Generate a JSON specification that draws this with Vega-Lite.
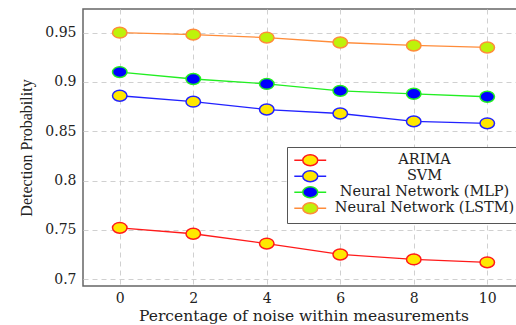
{
  "$schema": "https://vega.github.io/schema/vega-lite/v6.json",
  "autosize": "none",
  "width": 441,
  "height": 277,
  "padding": {"left": 83, "top": 9, "right": 0, "bottom": 39},
  "background": "white",
  "config": {
    "view": {"stroke": "#666", "strokeWidth": 1.5},
    "axis": {
      "labelFont": "DejaVu Serif",
      "labelFontSize": 14,
      "labelColor": "#222",
      "titleFont": "DejaVu Serif",
      "titleFontWeight": "normal",
      "titleColor": "#222",
      "domain": false,
      "ticks": false,
      "grid": true,
      "gridColor": "#d0d0d0",
      "gridDash": [5, 4],
      "gridWidth": 1
    },
    "legend": {
      "title": null,
      "orient": "none",
      "legendX": 204,
      "legendY": 138,
      "padding": 6,
      "rowPadding": -2,
      "symbolType": "M-2.9,0H-1.36M1.36,0H2.9M-1.36,0A1.36,1,0,1,1,1.36,0A1.36,1,0,1,1,-1.36,0Z",
      "symbolSize": 121,
      "symbolStrokeWidth": 1.5,
      "symbolOffset": 10,
      "labelFont": "DejaVu Serif",
      "labelFontSize": 14.5,
      "labelColor": "#222",
      "labelAlign": "center",
      "labelOffset": 107,
      "labelLimit": 300,
      "strokeColor": "#555",
      "fillColor": "white",
      "cornerRadius": 0
    }
  },
  "data": {
    "values": [
      {"noise": 0, "method": "ARIMA", "prob": 0.752},
      {"noise": 2, "method": "ARIMA", "prob": 0.746},
      {"noise": 4, "method": "ARIMA", "prob": 0.736},
      {"noise": 6, "method": "ARIMA", "prob": 0.725},
      {"noise": 8, "method": "ARIMA", "prob": 0.72},
      {"noise": 10, "method": "ARIMA", "prob": 0.717},
      {"noise": 0, "method": "SVM", "prob": 0.886},
      {"noise": 2, "method": "SVM", "prob": 0.88},
      {"noise": 4, "method": "SVM", "prob": 0.872},
      {"noise": 6, "method": "SVM", "prob": 0.868},
      {"noise": 8, "method": "SVM", "prob": 0.86},
      {"noise": 10, "method": "SVM", "prob": 0.858},
      {"noise": 0, "method": "Neural Network (MLP)", "prob": 0.91},
      {"noise": 2, "method": "Neural Network (MLP)", "prob": 0.903},
      {"noise": 4, "method": "Neural Network (MLP)", "prob": 0.898},
      {"noise": 6, "method": "Neural Network (MLP)", "prob": 0.891},
      {"noise": 8, "method": "Neural Network (MLP)", "prob": 0.888},
      {"noise": 10, "method": "Neural Network (MLP)", "prob": 0.885},
      {"noise": 0, "method": "Neural Network (LSTM)", "prob": 0.95},
      {"noise": 2, "method": "Neural Network (LSTM)", "prob": 0.948},
      {"noise": 4, "method": "Neural Network (LSTM)", "prob": 0.945},
      {"noise": 6, "method": "Neural Network (LSTM)", "prob": 0.94},
      {"noise": 8, "method": "Neural Network (LSTM)", "prob": 0.937},
      {"noise": 10, "method": "Neural Network (LSTM)", "prob": 0.935}
    ]
  },
  "encoding": {
    "x": {
      "field": "noise", "type": "quantitative",
      "scale": {"domain": [-1, 11], "nice": false, "zero": false},
      "axis": {"values": [0, 2, 4, 6, 8, 10], "title": "Percentage of noise within measurements", "titleFontSize": 15.5, "labelPadding": 5, "titlePadding": 3}
    },
    "y": {
      "field": "prob", "type": "quantitative",
      "scale": {"domain": [0.693, 0.974], "nice": false, "zero": false},
      "axis": {"values": [0.7, 0.75, 0.8, 0.85, 0.9, 0.95], "format": ".2~f", "title": "Detection Probability", "titleFont": "Liberation Serif", "titleFontSize": 16, "labelPadding": 7, "titlePadding": 10}
    },
    "stroke": {
      "field": "method", "type": "nominal",
      "scale": {"domain": ["ARIMA", "SVM", "Neural Network (MLP)", "Neural Network (LSTM)"], "range": ["#ff1a1a", "#2222ff", "#22ee22", "#ff8c3a"]}
    }
  },
  "layer": [
    {
      "mark": {"type": "line", "strokeWidth": 1.3},
      "encoding": {"detail": {"field": "method"}}
    },
    {
      "mark": {"type": "point", "filled": true, "shape": "M-1,0A1,0.75,0,1,1,1,0A1,0.75,0,1,1,-1,0Z", "size": 210, "strokeWidth": 1.5, "opacity": 1},
      "encoding": {
        "fill": {
          "field": "method", "type": "nominal",
          "scale": {"domain": ["ARIMA", "SVM", "Neural Network (MLP)", "Neural Network (LSTM)"], "range": ["#ffe800", "#ffe800", "#0000ff", "#bef20a"]}
        }
      }
    }
  ]
}
